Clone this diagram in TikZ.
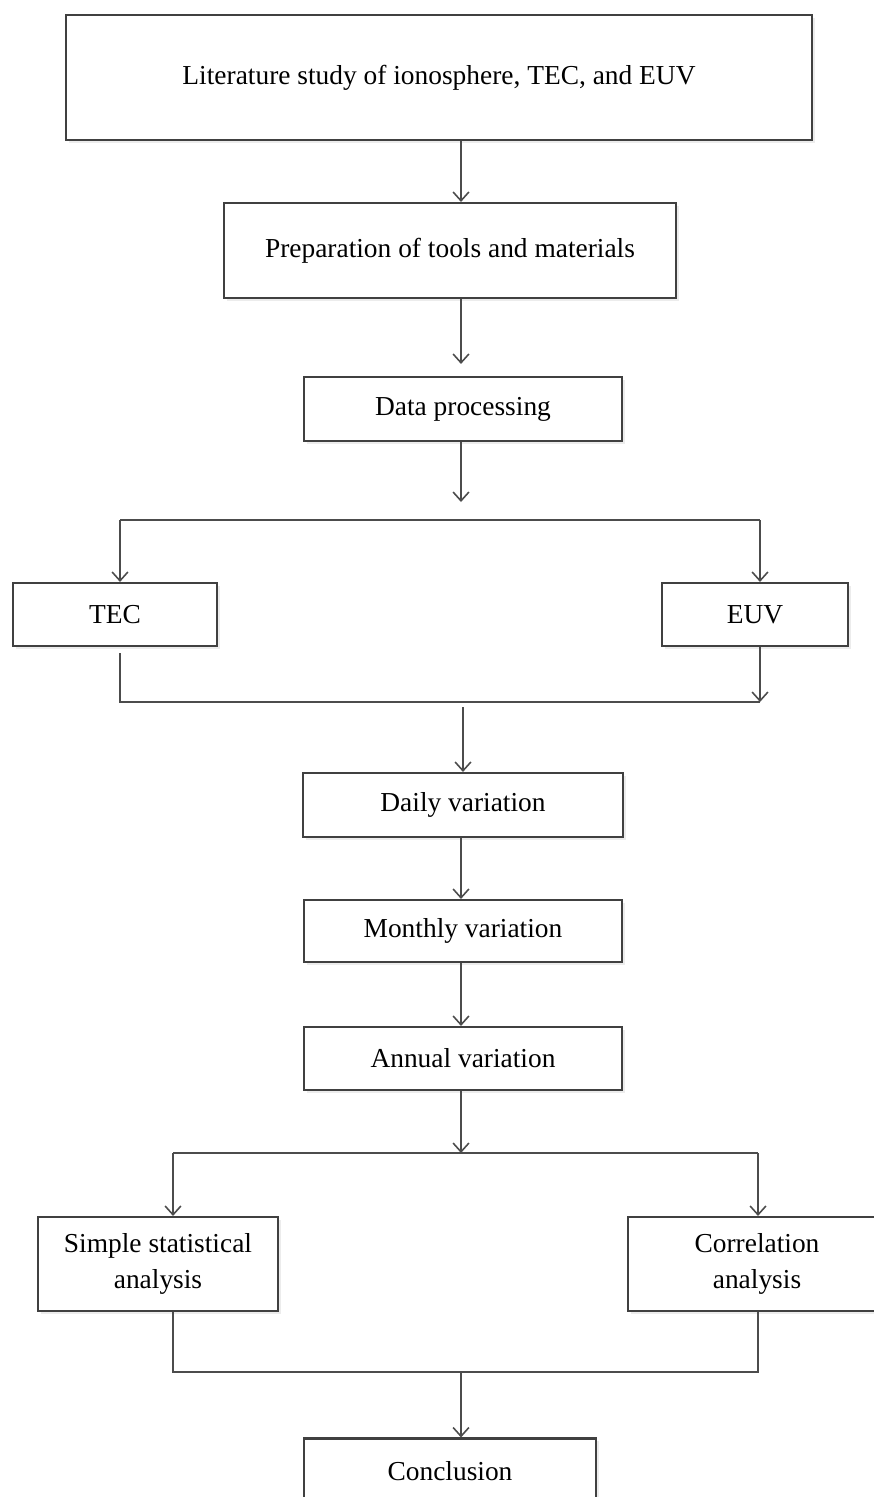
\documentclass[tikz,border=0pt]{standalone}
\usepackage{fontspec}
\setmainfont{Liberation Serif}
\usetikzlibrary{arrows.meta,shadows}

\begin{document}
\begin{tikzpicture}[x=0.02cm,y=-0.02cm,
    stage/.style={draw=black!75,line width=1.2pt,fill=white,align=center,
      font=\fontsize{15.6}{20}\selectfont,inner sep=2pt,
      drop shadow={shadow xshift=1.5pt,shadow yshift=-1.5pt,opacity=0.15}},
    link/.style={draw=black!70,line width=0.9pt},
    >={Straight Barb[length=5pt,width=9pt]}]

  \useasboundingbox (0,0) rectangle (874,1497);
  \clip (0,0) rectangle (874,1497);

  \node[stage,minimum width=14.92cm,minimum height=2.5cm] (lit) at (439,77.5) {Literature study of ionosphere, TEC, and EUV};
  \node[stage,minimum width=9.04cm,minimum height=1.9cm] (prep) at (450,250.5) {Preparation of tools and materials};
  \node[stage,minimum width=6.36cm,minimum height=1.28cm] (data) at (463,409) {Data processing};

  \node[stage,minimum width=4.08cm,minimum height=1.26cm] (tec) at (115,614.5) {TEC};
  \node[stage,minimum width=3.72cm,minimum height=1.26cm] (euv) at (755,614.5) {EUV};

  \node[stage,minimum width=6.4cm,minimum height=1.28cm] (daily) at (463,805) {Daily variation};
  \node[stage,minimum width=6.36cm,minimum height=1.24cm] (monthly) at (463,931) {Monthly variation};
  \node[stage,minimum width=6.36cm,minimum height=1.26cm] (annual) at (463,1058.5) {Annual variation};

  \node[stage,minimum width=4.8cm,minimum height=1.88cm] (simple) at (158,1264) {Simple statistical\\analysis};
  \node[stage,minimum width=5.16cm,minimum height=1.88cm] (corr) at (757,1264) {Correlation\\analysis};

  \node[stage,minimum width=5.84cm,minimum height=1.3cm] (concl) at (450,1471) {Conclusion};

  % junction points
  \coordinate (axis) at (461,0);
  \coordinate (splitL) at (120,520);
  \coordinate (splitR) at (760,520);
  \coordinate (joinL) at (120,702);
  \coordinate (joinR) at (760,702);
  \coordinate (joinC) at (463,707);
  \coordinate (forkL) at (173,1153);
  \coordinate (forkR) at (758,1153);
  \coordinate (mergeL) at (173,1372);
  \coordinate (mergeR) at (758,1372);
  \coordinate (mergeC) at (461,1372);

  \draw[link,->] (axis |- lit.south) -- (axis |- prep.north);
  \draw[link,->,shorten >=0.24cm] (axis |- prep.south) -- (axis |- data.north);
  \draw[link,->,shorten >=0.36cm] (axis |- data.south) -- (axis |- splitL);

  \draw[link] (splitL) -- (splitR);
  \draw[link,->] (splitL) -- (splitL |- tec.north);
  \draw[link,->] (splitR) -- (splitR |- euv.north);

  \draw[link] ([yshift=-0.12cm]joinL |- tec.south) -- (joinL) -- (joinR);
  \draw[link,->] (joinR |- euv.south) -- (joinR);
  \draw[link,->] (joinC) -- (joinC |- daily.north);

  \draw[link,->] (axis |- daily.south) -- (axis |- monthly.north);
  \draw[link,->] (axis |- monthly.south) -- (axis |- annual.north);
  \draw[link,->] (axis |- annual.south) -- (axis |- forkL);

  \draw[link] (forkL) -- (forkR);
  \draw[link,->] (forkL) -- (forkL |- simple.north);
  \draw[link,->] (forkR) -- (forkR |- corr.north);

  \draw[link] (mergeL |- simple.south) -- (mergeL) -- (mergeR) -- (mergeR |- corr.south);
  \draw[link,->] (mergeC) -- (mergeC |- concl.north);

\end{tikzpicture}
\end{document}
